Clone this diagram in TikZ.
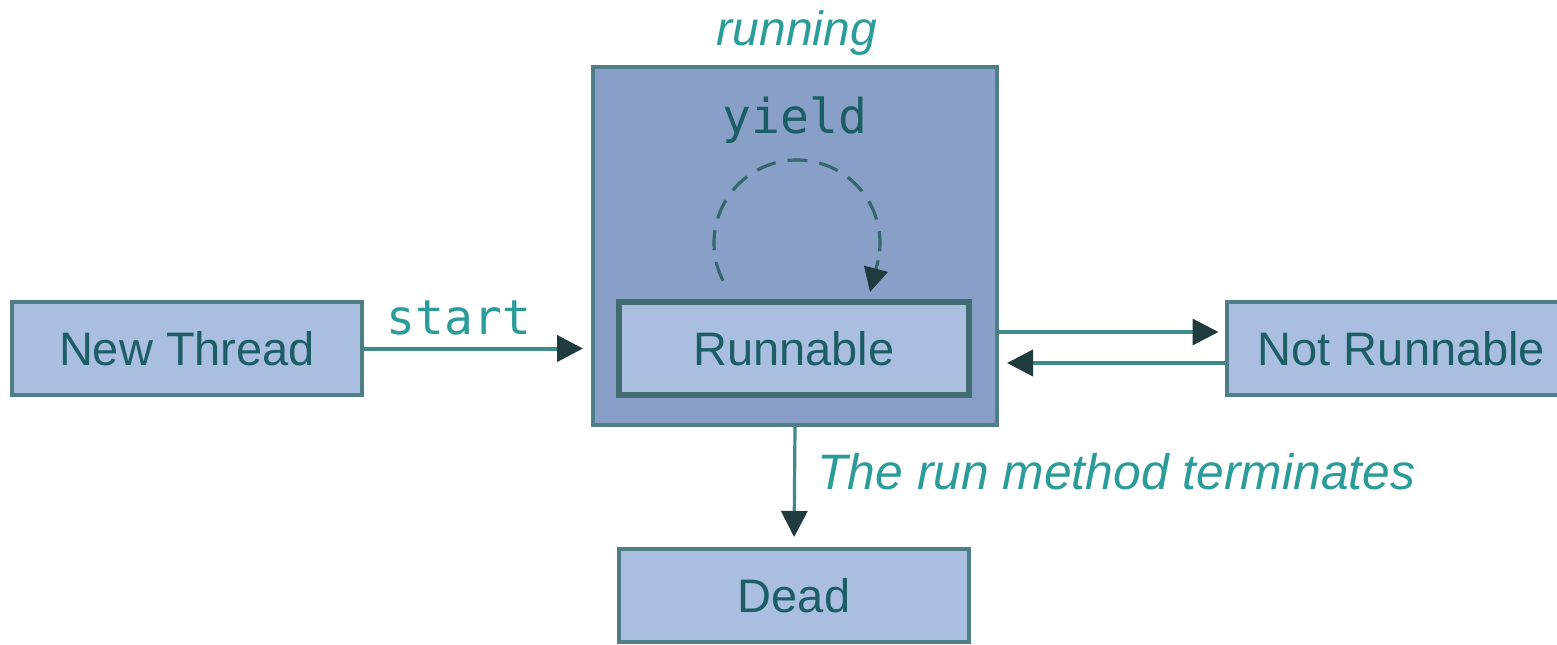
\documentclass[tikz,border=0pt]{standalone}
\usepackage{fontspec}
\setmainfont{Liberation Sans}
\newfontfamily\monofnt{DejaVu Sans Mono}
\usetikzlibrary{arrows.meta,calc}
\definecolor{boxfill}{HTML}{AABFDF}
\definecolor{runfill}{HTML}{88A0C8}
\definecolor{boxline}{HTML}{4F7E86}
\definecolor{txtdark}{HTML}{1B5E66}
\definecolor{lbl}{HTML}{2B9C9A}
\definecolor{arrline}{HTML}{3F8A8C}
\definecolor{headc}{HTML}{1F3B3E}
\definecolor{dashc}{HTML}{36676B}
\tikzset{
  statebox/.style={draw=boxline, line width=2pt, fill=boxfill, minimum width=175pt, minimum height=46.5pt, inner sep=0pt, font=\fontsize{23.5}{26}\selectfont, text=txtdark},
  outerbox/.style={draw=boxline, line width=2pt, fill=runfill, minimum width=202pt, minimum height=179pt, inner sep=0pt},
  lbltext/.style={font=\fontsize{24}{28}\selectfont\itshape, text=lbl, inner sep=0pt},
  monotext/.style={font=\fontsize{24}{28}\selectfont\monofnt, inner sep=0pt},
  conn/.style={draw=arrline, line width=2pt, -{Triangle[length=13pt,width=13pt,fill=headc,color=headc]}},
  dashloop/.style={draw=dashc, line width=1.6pt, dash pattern=on 10pt off 6pt},
}
\begin{document}
\begin{tikzpicture}[x=0.5pt,y=-0.5pt]
\useasboundingbox[fill=white] (0,0) rectangle (1557,644);
\node[outerbox] (running) at (795,246) {};
\node[statebox, line width=3pt, draw=boxline!85!black] (runnable) at (794,348.5) {Runnable};
\node[statebox] (newthread) at (187,348.5) {New Thread};
\node[statebox] (notrun) at (1401.5,348.5) {Not Runnable};
\node[statebox] (dead) at (794,595.5) {Dead};
\node[lbltext] (runlbl) at (797,33) {running};
\node[monotext, text=txtdark] (yieldlbl) at (795,120) {yield};
\node[monotext, text=lbl] (startlbl) at (459,318) {start};
\node[lbltext, anchor=west, font=\fontsize{24.9}{28}\selectfont\itshape] (termlbl) at (817,472) {The run method terminates};
\coordinate (loopc) at (797,243);
\coordinate (loopend) at (870,292);
% start
\draw[conn, shorten >=4pt] (newthread.east) -- (newthread.east -| running.west);
% to not runnable
\coordinate (upR) at ($(notrun.west)+(0,-16.5)$);
\coordinate (loR) at ($(notrun.west)+(0,14.5)$);
\draw[conn, line width=1.6pt, shorten >=3pt] (upR -| running.east) -- (upR);
\draw[conn, shorten >=4pt] (loR) -- (loR -| running.east);
% terminates
\draw[conn, line width=1.6pt, shorten >=5pt] (running.south) -- (dead.north);
% yield loop
\draw[dashloop]
  ([shift={(207:41.5pt)}]loopc) arc[start angle=207, end angle=-12, radius=41.5pt] coordinate (arcend);
\draw[draw=dashc, line width=1.6pt, -{Triangle[length=12pt,width=12pt,fill=headc,color=headc]}] (arcend) -- (loopend);
\end{tikzpicture}
\end{document}
